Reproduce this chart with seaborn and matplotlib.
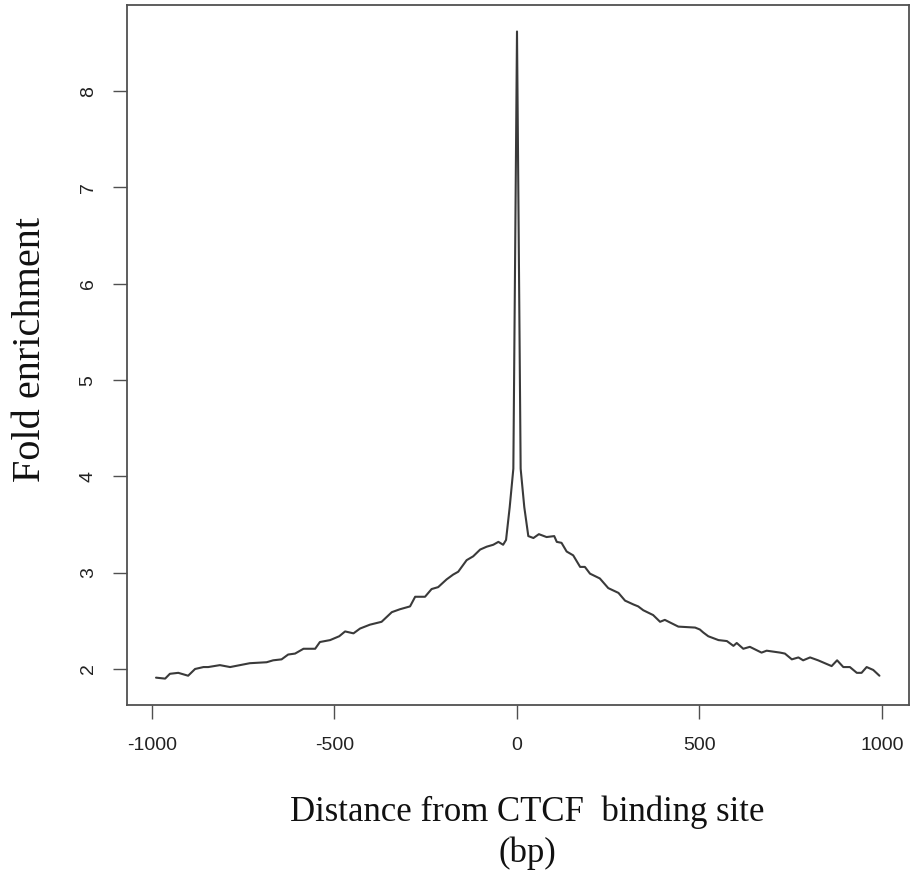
import matplotlib
matplotlib.use("Agg")
import matplotlib.pyplot as plt
import seaborn as sns
import pandas as pd

# Distance from CTCF binding site (bp) and fold enrichment
distance_bp = [
    -989, -964, -951, -928, -901, -882, -859, -846, -814, -786, -759, -732,
    -686, -668, -645, -627, -608, -585, -553, -540, -512, -487, -471, -448,
    -430, -403, -371, -343, -321, -293, -279, -252, -234, -216, -193, -175,
    -161, -138, -120, -101, -83, -65, -51, -38, -30, -20, -10, 0, 10, 20,
    31, 45, 60, 81, 102, 109, 122, 136, 154, 173, 186, 200, 227, 250, 278,
    296, 319, 332, 346, 373, 392, 405, 442, 488, 501, 510, 524, 552, 575,
    593, 602, 620, 638, 670, 684, 721, 734, 753, 771, 784, 803, 825, 862,
    877, 894, 912, 931, 944, 958, 976, 993,
]
fold_enrichment = [
    1.91, 1.90, 1.95, 1.96, 1.93, 2.00, 2.02, 2.02, 2.04, 2.02, 2.04, 2.06,
    2.07, 2.09, 2.10, 2.15, 2.16, 2.21, 2.21, 2.28, 2.30, 2.34, 2.39, 2.37,
    2.42, 2.46, 2.49, 2.59, 2.62, 2.65, 2.75, 2.75, 2.83, 2.85, 2.93, 2.98,
    3.01, 3.13, 3.17, 3.24, 3.27, 3.29, 3.32, 3.29, 3.34, 3.68, 4.08, 8.62,
    4.08, 3.68,
    3.38, 3.36, 3.40, 3.37, 3.38, 3.32, 3.31, 3.22, 3.18, 3.06, 3.06, 2.99,
    2.94, 2.84, 2.79, 2.71, 2.67, 2.65, 2.61, 2.56, 2.49, 2.51, 2.44, 2.43,
    2.41, 2.38, 2.34, 2.30, 2.29, 2.24, 2.27, 2.21, 2.23, 2.17, 2.19, 2.17,
    2.16, 2.10, 2.12, 2.09, 2.12, 2.09, 2.03, 2.09, 2.02, 2.02, 1.96, 1.96,
    2.02, 1.99, 1.93,
]
x_ticks = [-1000, -500, 0, 500, 1000]
y_ticks = [2, 3, 4, 5, 6, 7, 8]
x_label = "Distance from CTCF  binding site"
x_unit = "(bp)"
y_label = "Fold enrichment"

df = pd.DataFrame({"distance": distance_bp, "fold": fold_enrichment})

sns.set_theme(style="white")
plt.rcParams["font.family"] = ["Liberation Sans", "DejaVu Sans"]

fig = plt.figure(figsize=(9.12, 8.72), dpi=100)
ax = fig.add_axes([127 / 912, 1 - 705 / 872, (909 - 127) / 912, (705 - 5) / 872])

sns.lineplot(data=df, x="distance", y="fold", ax=ax, color="#3a3a3a",
             linewidth=1.5, sort=False, estimator=None)

ax.set_xlim(-1068.5, 1074)
ax.set_ylim(1.626, 8.895)
ax.set_xticks(x_ticks)
ax.set_xticklabels([str(v) for v in x_ticks])
ax.set_yticks(y_ticks)
ax.set_yticklabels([str(v) for v in y_ticks], rotation=90, va="center")
ax.set_xlabel("")
ax.set_ylabel("")

for s in ax.spines.values():
    s.set_visible(True)
    s.set_color("#505050")
    s.set_linewidth(1.3)

ax.tick_params(axis="both", which="major", direction="out", length=9.8,
               width=1.0, color="#505050", labelsize=14, labelcolor="#222222",
               bottom=True, left=True)
ax.tick_params(axis="x", pad=13)
ax.tick_params(axis="y", pad=12)

serif = ["Liberation Serif", "DejaVu Serif"]
fig.text(527 / 912, 1 - 812 / 872, x_label, ha="center", va="center",
         fontsize=25, family=serif, color="#111111")
fig.text(527 / 912, 1 - 853 / 872, x_unit, ha="center", va="center",
         fontsize=25, family=serif, color="#111111")
fig.text(31 / 912, 1 - 350 / 872, y_label, ha="center", va="center",
         rotation=90, fontsize=29, family=serif, color="#111111")

fig.savefig("out.png", dpi=100)
